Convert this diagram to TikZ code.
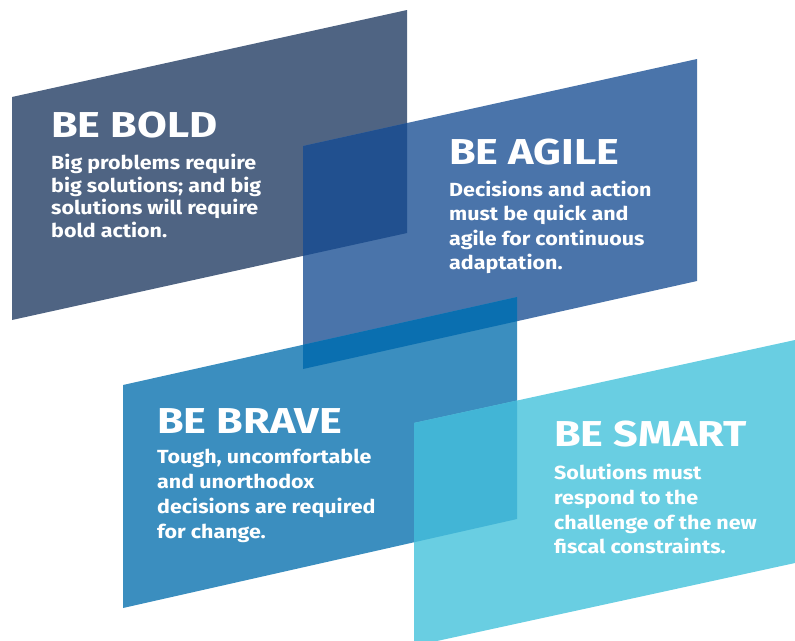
\documentclass[tikz,border=0pt]{standalone}
\usepackage{fontspec}
\setmainfont{Fira Sans}
\newfontfamily\titlefont{Fira Sans}[FakeStretch=1.2]
\newfontfamily\bodyfont{Fira Sans}[FakeStretch=1.13]
\definecolor{cBold}{HTML}{4F6483}
\definecolor{cAgile}{HTML}{4A74AA}
\definecolor{cBoldAgile}{HTML}{21508F}
\definecolor{cBrave}{HTML}{3B8EBF}
\definecolor{cAgileBrave}{HTML}{0A6FB0}
\definecolor{cSmart}{HTML}{69CEE2}
\definecolor{cBraveSmart}{HTML}{42B5D6}
\tikzset{
  title/.style={anchor=base west, inner sep=0pt, text=white, font=\titlefont\fontsize{36}{40}\selectfont\bfseries},
  body/.style={anchor=north west, inner sep=0pt, text=white, align=left, font=\bodyfont\fontsize{19}{#1}\selectfont\bfseries},
}
\def\pBold{(12,97) -- (407,10) -- (407,233) -- (12,320) -- cycle}
\def\pAgile{(303,146) -- (697,59) -- (697,281) -- (303,369) -- cycle}
\def\pBrave{(123,385) -- (517,297) -- (517,519) -- (123,608) -- cycle}
\def\pSmart{(414,423) -- (795,340) -- (795,563) -- (414,646) -- cycle}
\begin{document}
\begin{tikzpicture}[x=1pt,y=-1pt]
\useasboundingbox (0,0) rectangle (795,640);
\fill[cBold] \pBold;
\fill[cAgile] \pAgile;
\begin{scope}\clip \pBold; \fill[cBoldAgile] \pAgile; \end{scope}
\fill[cBrave] \pBrave;
\begin{scope}\clip \pAgile; \fill[cAgileBrave] \pBrave; \end{scope}
\fill[cSmart] \pSmart;
\begin{scope}\clip \pBrave; \fill[cBraveSmart] \pSmart; \end{scope}

\node[title] (boldT) at (51,137) {BE BOLD};
\node[body=22.5] (boldB) at (51,154) {Big problems require\\big solutions; and big\\solutions will require\\bold action.};

\node[title] (agileT) at (449,164) {BE AGILE};
\node[body=24.3] (agileB) at (449,181) {Decisions and action\\must be quick and\\agile for continuous\\adaptation.};

\node[title] (braveT) at (157,433) {BE BRAVE};
\node[body=25] (braveB) at (157,449) {Tough, uncomfortable\\and unorthodox\\decisions are required\\for change.};

\node[title] (smartT) at (554,446) {BE SMART};
\node[body=24.7] (smartB) at (554,464) {Solutions must\\respond to the\\challenge of the new\\fiscal constraints.};
\end{tikzpicture}
\end{document}
